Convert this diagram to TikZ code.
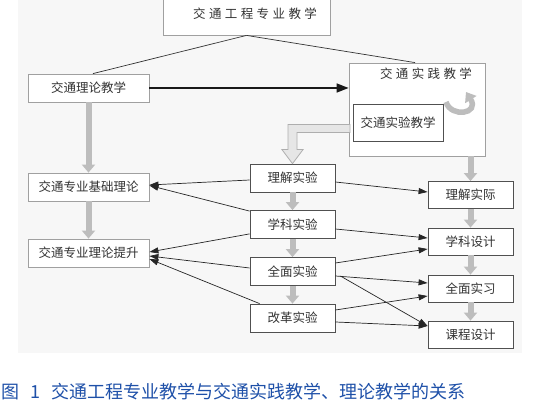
\documentclass[tikz,border=0pt]{standalone}
\usepackage{fontspec}
\newfontfamily\cjk{Noto Sans CJK SC}
\usetikzlibrary{arrows.meta,calc}
\definecolor{txt}{HTML}{333333}
\definecolor{bordL}{HTML}{A0A0A0}
\definecolor{bordD}{HTML}{505050}
\definecolor{agray}{HTML}{BDBDBD}
\definecolor{hfill}{HTML}{E6E6E6}
\definecolor{hdraw}{HTML}{AEAEAE}
\definecolor{bg}{HTML}{F7F7F7}
\definecolor{capblue}{HTML}{1E50A8}
\newcommand{\cjksp}{\hspace{3.4pt}}
\begin{document}
\begin{tikzpicture}[x=1pt,y=-1pt,
  basebox/.style={fill=white, line width=0.8pt, text=txt, inner sep=0pt,
    font=\cjk\fontsize{12.5}{14}\selectfont},
  lbox/.style={basebox, draw=bordL, minimum width=121pt, minimum height=28pt},
  mbox/.style={basebox, draw=bordD, minimum width=85pt, minimum height=28pt},
  rbox/.style={basebox, draw=bordD, minimum width=85pt, minimum height=27pt},
  garrow/.style={draw=agray, line width=6pt, -{Triangle[width=13pt 0 0,length=8pt 0 0]}},
  tarrow/.style={draw=black!85, line width=0.7pt, -{Triangle[width=6pt 0 0,length=9pt 0 0]}},
  barrow/.style={draw=black!90, line width=1.5pt, -{Triangle[width=9pt 0 0,length=12pt 0 0]}},
  tline/.style={draw=black!80, line width=0.7pt},
  hollowarrow/.style={fill=hfill, draw=hdraw, line width=0.8pt, line join=miter}
]
\useasboundingbox (0,0) rectangle (549,411);
\clip (0,0) rectangle (549,411);
\fill[bg] (18,0) rectangle (522,353);

% top
\node[basebox, draw=bordL, minimum width=167pt, minimum height=42pt] (top) at (246.5,14)
  {\hspace{17pt}交\cjksp 通\cjksp 工\cjksp 程\cjksp 专\cjksp 业\cjksp 教\cjksp 学};

% left column
\node[lbox] (theory) at (88.5,88) {交通理论教学};
\node[lbox] (basic) at (88.5,187) {交通专业基础理论};
\node[lbox] (upgrade) at (88.5,253) {交通专业理论提升};

% practice box
\node[basebox, draw=bordL, minimum width=136pt, minimum height=93pt] (outer) at (417,109.5) {};
\node[text=txt, inner sep=0pt, font=\cjk\fontsize{12.5}{14}\selectfont] (pttitle) at (426,74)
  {交\cjksp 通\cjksp 实\cjksp 践\cjksp 教\cjksp 学};
\node[basebox, draw=bordD, minimum width=90pt, minimum height=37pt] (inner) at (398,122.5) {交通实验教学};

% middle column
\node[mbox] (ljsy) at (292.5,178) {理解实验};
\node[mbox] (xksy) at (292.5,224.5) {学科实验};
\node[mbox] (qmsy) at (292.5,271.5) {全面实验};
\node[mbox] (ggsy) at (292.5,318) {改革实验};

% right column
\node[rbox] (ljsj) at (470.5,195) {理解实际};
\node[rbox] (xksj) at (470.5,241.5) {学科设计};
\node[rbox] (qmsx) at (470.5,288.5) {全面实习};
\node[rbox] (kcsj) at (470.5,334.5) {课程设计};

% caption
\node[anchor=west, inner sep=0pt, text=capblue, font=\cjk\fontsize{18}{20}\selectfont] (cap) at (1,392)
  {图\hspace{11pt}1\hspace{11pt}交通工程专业教学与交通实践教学、理论教学的关系};

% top lines
\draw[tline] (top.south) -- ([xshift=4.5pt]theory.north);
\draw[tline] (top.south) -- ([xshift=-2pt]outer.north);

% thick black arrow
\draw[barrow] (theory.east) -- (theory.east -| outer.west);

% gray arrows
\draw[garrow] (theory.south) -- (basic.north);
\draw[garrow] (basic.south) -- (upgrade.north);
\draw[garrow] (ljsy.south) -- (xksy.north);
\draw[garrow] (xksy.south) -- (qmsy.north);
\draw[garrow] (qmsy.south) -- (ggsy.north);
\draw[garrow] (ljsj.north |- outer.south) -- (ljsj.north);
\draw[garrow] (ljsj.south) -- (xksj.north);
\draw[garrow] (xksj.south) -- (qmsx.north);
\draw[garrow] (qmsx.south) -- (kcsj.north);

% hollow L arrow from inner box to ljsy
\filldraw[hollowarrow] (ljsy.north) -- ++(-10.5,-14) -- ++(6,0) -- ++(0,-25) -- ++(62,0)
  -- ++(0,8) -- ++(-53,0) -- ++(0,17) -- ++(6,0) -- cycle;

% curved arrow
\draw[draw=agray, line width=5.5pt, -{Triangle[width=13pt 0 0,length=9pt 0 0]}]
  (446,102) .. controls (451,118) and (480,114) .. (466,92);

% thin arrows to the left
\draw[tarrow] ([yshift=-2pt]ljsy.west) -- ([yshift=2pt]basic.east);
\draw[tarrow] ([yshift=-1pt]xksy.north west) -- ([yshift=1.5pt]basic.east);
\draw[tarrow] ([yshift=5pt]xksy.south west) -- ([yshift=1pt]upgrade.east);
\draw[tarrow] ([yshift=3.5pt]qmsy.west) -- ([yshift=-3pt]upgrade.east);
\draw[tarrow] ([xshift=10pt]ggsy.north west) -- ([yshift=-6pt]upgrade.east);

% thin arrows to the right
\draw[tarrow] ([yshift=-4pt]ljsy.east) -- ([yshift=3pt]ljsj.west);
\draw[tarrow] ([yshift=-4.5pt]xksy.east) -- ([yshift=3.5pt]xksj.west);
\draw[tarrow] ([yshift=8.5pt]qmsy.east) -- ([yshift=-7.5pt]xksj.west);
\draw[tarrow] ([yshift=-4.5pt]qmsy.east) -- ([yshift=5.5pt]qmsx.west);
\draw[tarrow] ([xshift=5pt,yshift=-4.5pt]qmsy.east) -- ([yshift=8.5pt]kcsj.west);
\draw[tarrow] ([yshift=8pt]ggsy.east) -- ([yshift=-7.5pt]qmsx.west);
\draw[tarrow] ([yshift=-4pt]ggsy.east) -- ([yshift=8.5pt]kcsj.west);
\end{tikzpicture}
\end{document}
